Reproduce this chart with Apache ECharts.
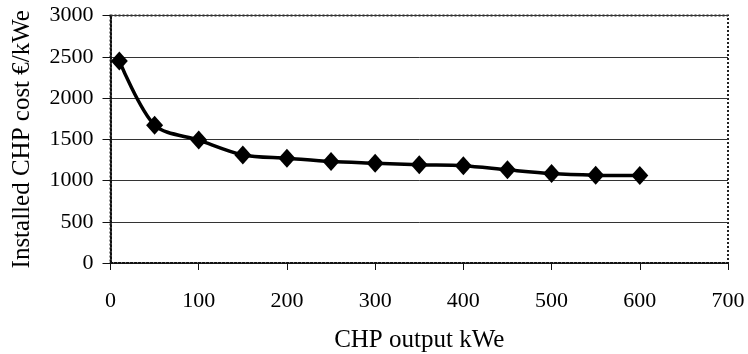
<!DOCTYPE html>
<html>
<head>
<meta charset="utf-8">
<script src="https://cdn.jsdelivr.net/npm/echarts@6/dist/echarts.min.js"></script>
<style>
  html, body { margin: 0; padding: 0; background: #fff; }
  #chart { width: 748px; height: 354px; }
</style>
</head>
<body>
<div id="chart"></div>
<script>
// CHP output (kWe) and installed cost (EUR/kWe)
const outputKwe = [10, 50, 100, 150, 200, 250, 300, 350, 400, 450, 500, 550, 600];
const costPerKwe = [2450, 1670, 1490, 1310, 1270, 1230, 1210, 1190, 1180, 1130, 1085, 1065, 1060];
const xTicks = [0, 100, 200, 300, 400, 500, 600, 700];
const yTicks = [0, 500, 1000, 1500, 2000, 2500, 3000];

const font = 'Liberation Serif';

var chart = echarts.init(document.getElementById('chart'), null, { renderer: 'canvas' });

var points = outputKwe.map((x, i) => [x, costPerKwe[i]]);

var option = {
  animation: false,
  backgroundColor: '#fff',
  grid: {
    left: 110.5,
    right: 20,
    top: 15.5,
    bottom: 91,
    outerBoundsMode: 'none',
    containLabel: false,
    show: true,
    borderColor: '#222',
    borderWidth: 2,
    borderType: 'dotted'
  },
  xAxis: {
    type: 'value',
    min: xTicks[0],
    max: xTicks[xTicks.length - 1],
    interval: 100,
    name: 'CHP output kWe',
    nameLocation: 'middle',
    nameGap: 65,
    nameTextStyle: { fontFamily: font, fontSize: 25, color: '#000' },
    axisLine: { show: true, lineStyle: { color: '#111', width: 2, type: 'dotted' } },
    axisTick: { show: true, inside: false, length: 7, lineStyle: { color: '#111' } },
    axisLabel: { fontFamily: font, fontSize: 22, color: '#000', margin: 27, formatter: v => String(v) },
    splitLine: { show: false }
  },
  yAxis: {
    type: 'value',
    min: yTicks[0],
    max: yTicks[yTicks.length - 1],
    interval: 500,
    name: 'Installed CHP cost €/kWe',
    nameLocation: 'middle',
    nameGap: 76,
    nameTextStyle: { fontFamily: font, fontSize: 25, color: '#000' },
    axisLine: { show: true, lineStyle: { color: '#111', width: 2, type: 'dotted' } },
    axisTick: { show: true, inside: false, length: 8, lineStyle: { color: '#111' } },
    axisLabel: { fontFamily: font, fontSize: 22, color: '#000', margin: 17, formatter: v => String(v) },
    splitLine: { show: true, lineStyle: { color: '#333', width: 1 } }
  },
  series: [
    {
      type: 'line',
      data: points,
      smooth: 0.3,
      symbol: 'diamond',
      symbolSize: [17, 19],
      lineStyle: { color: '#000', width: 3.5 },
      itemStyle: { color: '#000' }
    }
  ]
};

chart.setOption(option);
</script>
</body>
</html>
